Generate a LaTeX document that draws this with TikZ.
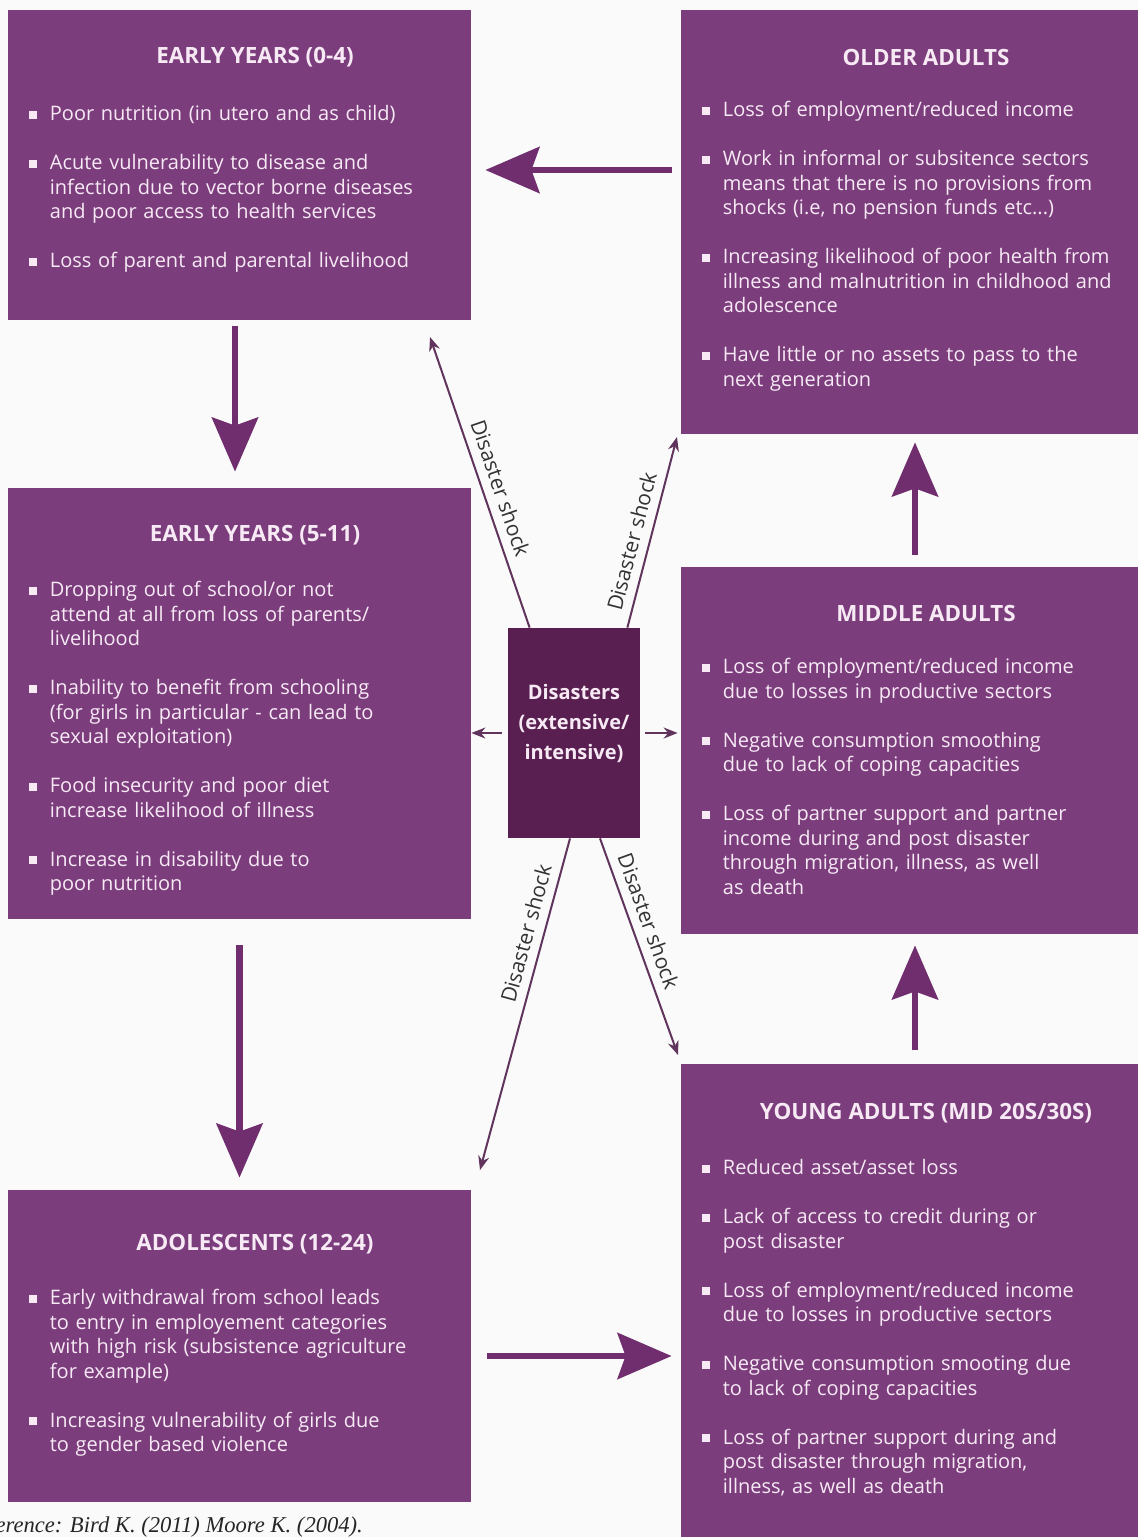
\documentclass[tikz,border=0pt]{standalone}
\usepackage{fontspec}
\setmainfont{Open Sans}
\newfontfamily\reffont{Liberation Serif}
\usetikzlibrary{arrows.meta,positioning,calc}
\definecolor{pagebg}{RGB}{250,250,250}
\definecolor{boxpurple}{RGB}{124,61,125}
\definecolor{darkpurple}{RGB}{88,31,80}
\definecolor{arrowpurple}{RGB}{112,46,111}
\definecolor{shockline}{RGB}{96,52,92}
\definecolor{boxtext}{RGB}{247,234,245}
\newlength{\bulind}
\setlength{\bulind}{10.25pt}
% one bullet point of a box, lines broken by hand
\newcommand{\bitem}[1]{\par{\let\\\newline\hangindent=\bulind\hangafter=1\noindent
  \makebox[\bulind][l]{\raisebox{0.8pt}{\rule{4pt}{4pt}}}#1\par}\vspace{12.25pt}}

\begin{document}
\begin{tikzpicture}[x=0.5pt,y=-0.5pt,
  box/.style={fill=boxpurple, inner sep=0pt},
  head/.style={text=boxtext, font=\bfseries\fontsize{11.2}{13}\selectfont},
  body/.style={anchor=base west, inner sep=0pt, text width=225pt, align=left,
    text=boxtext, font=\fontsize{10}{12.25}\selectfont},
  bigarrow/.style={draw=arrowpurple, line width=3.3pt,
    -{Stealth[length=27pt, width=23pt, inset=4pt]}},
  shock/.style={draw=shockline, line width=1pt},
  shocklbl/.style={sloped, above=1pt, text=black!80, font=\fontsize{10.5}{12}\selectfont}]
  \clip (0,0) rectangle (1138,1537);
  \fill[pagebg] (0,0) rectangle (1138,1537);

  % life stage boxes
  \node[box, minimum width=231.5pt, minimum height=155pt] (ey04) at (239.5,165) {};
  \node[box, minimum width=228.5pt, minimum height=212pt] (old) at (909.5,222) {};
  \node[box, minimum width=231.5pt, minimum height=215.5pt] (ey511) at (239.5,703.5) {};
  \node[box, minimum width=228.5pt, minimum height=183.5pt] (mid) at (909.5,750.5) {};
  \node[box, minimum width=231.5pt, minimum height=156pt] (adol) at (239.5,1346) {};
  \node[box, minimum width=228.5pt, minimum height=236.5pt] (young) at (909.5,1300.5) {};
  \node[fill=darkpurple, inner sep=0pt, minimum width=66pt, minimum height=105pt] (dis) at (574,733) {};
  \node[text=boxtext, align=center, font=\bfseries\fontsize{10}{15}\selectfont]
    (distxt) at ($(dis.center)+(0,-10)$) {Disasters\\(extensive/\\intensive)};

  % headings
  \node[head] (h1) at (255,57) {EARLY YEARS (0-4)};
  \node[head] (h2) at (926,57) {OLDER ADULTS};
  \node[head] (h3) at (255,535) {EARLY YEARS (5-11)};
  \node[head] (h4) at (926,613) {MIDDLE ADULTS};
  \node[head] (h5) at (255,1244) {ADOLESCENTS (12-24)};
  \node[head] (h6) at (926,1113) {YOUNG ADULTS (MID 20S/30S)};

  % bullet lists
  \node[body] (l1) at (29,96) {%
    \bitem{Poor nutrition (in utero and as child)}%
    \bitem{Acute vulnerability to disease and\\infection due to vector borne diseases\\and poor access to health services}%
    \bitem{Loss of parent and parental livelihood}};
  \node[body] (l2) at (702,92) {%
    \bitem{Loss of employment/reduced income}%
    \bitem{Work in informal or subsitence sectors\\means that there is no provisions from\\shocks (i.e, no pension funds etc...)}%
    \bitem{Increasing likelihood of poor health from\\illness and malnutrition in childhood and\\adolescence}%
    \bitem{Have little or no assets to pass to the\\next generation}};
  \node[body] (l3) at (29,572) {%
    \bitem{Dropping out of school/or not\\attend at all from loss of parents/\\livelihood}%
    \bitem{Inability to benefit from schooling\\(for girls in particular - can lead to\\sexual exploitation)}%
    \bitem{Food insecurity and poor diet\\increase likelihood of illness}%
    \bitem{Increase in disability due to\\poor nutrition}};
  \node[body] (l4) at (702,649) {%
    \bitem{Loss of employment/reduced income\\due to losses in productive sectors}%
    \bitem{Negative consumption smoothing\\due to lack of coping capacities}%
    \bitem{Loss of partner support and partner\\income during and post disaster\\through migration, illness, as well\\as death}};
  \node[body] (l5) at (29,1280) {%
    \bitem{Early withdrawal from school leads\\to entry in employement categories\\with high risk (subsistence agriculture\\for example)}%
    \bitem{Increasing vulnerability of girls due\\to gender based violence}};
  \node[body] (l6) at (702,1150) {%
    \bitem{Reduced asset/asset loss}%
    \bitem{Lack of access to credit during or\\post disaster}%
    \bitem{Loss of employment/reduced income\\due to losses in productive sectors}%
    \bitem{Negative consumption smooting due\\to lack of coping capacities}%
    \bitem{Loss of partner support during and\\post disaster through migration,\\illness, as well as death}};

  % life course arrows
  \draw[bigarrow, shorten <=3pt, shorten >=8pt] ([xshift=-2.25pt]ey04.south) -- ([xshift=-2.25pt]ey511.north);
  \draw[bigarrow, shorten <=13pt, shorten >=6pt] (ey511.south) -- (adol.north);
  \draw[bigarrow, shorten <=8pt, shorten >=4.5pt] ([yshift=-5pt]adol.east) -- ([yshift=-5pt]adol.east -| young.west);
  \draw[bigarrow, shorten <=7pt, shorten >=5.5pt] ([xshift=2.75pt]young.north) -- ([xshift=2.75pt]mid.south);
  \draw[bigarrow, shorten <=6pt, shorten >=4pt] ([xshift=2.75pt]mid.north) -- ([xshift=2.75pt]old.south);
  \draw[bigarrow, shorten <=4.5pt, shorten >=7pt] ([yshift=-2.5pt]ey04.east -| old.west) -- ([yshift=-2.5pt]ey04.east);

  % disaster shocks
  \coordinate (t1) at (430,337);
  \coordinate (t2) at (677,437);
  \coordinate (t3) at (480,1170);
  \coordinate (t4) at (678,1055);
  \draw[shock, {Stealth[length=7pt, width=5.5pt]}-] (t1) -- node[shocklbl, pos=0.54] {Disaster shock} ([xshift=11pt]dis.north west);
  \draw[shock, -{Stealth[length=7pt, width=5.5pt]}] ([xshift=-6.5pt]dis.north east) -- node[shocklbl, pos=0.43] {Disaster shock} (t2);
  \draw[shock, {Stealth[length=7pt, width=5.5pt]}-] (t3) -- node[shocklbl, pos=0.70] {Disaster shock} ([xshift=-2pt]dis.south);
  \draw[shock, -{Stealth[length=7pt, width=5.5pt]}] ([xshift=13pt]dis.south) -- node[shocklbl, pos=0.41] {Disaster shock} (t4);
  \draw[shock, -{Stealth[length=7pt, width=5.5pt]}, shorten <=3pt] (dis.west) -- (dis.west -| ey511.east);
  \draw[shock, -{Stealth[length=7pt, width=5.5pt]}, shorten <=2.5pt, shorten >=1.5pt] (dis.east) -- (dis.east -| mid.west);

  % source line
  \node[anchor=base west, inner sep=0pt, text=black!85, font=\reffont\itshape\fontsize{11.3}{13}\selectfont]
    (src) at (-35,1532) {Reference: Bird K. (2011) Moore K. (2004).};
\end{tikzpicture}
\end{document}
